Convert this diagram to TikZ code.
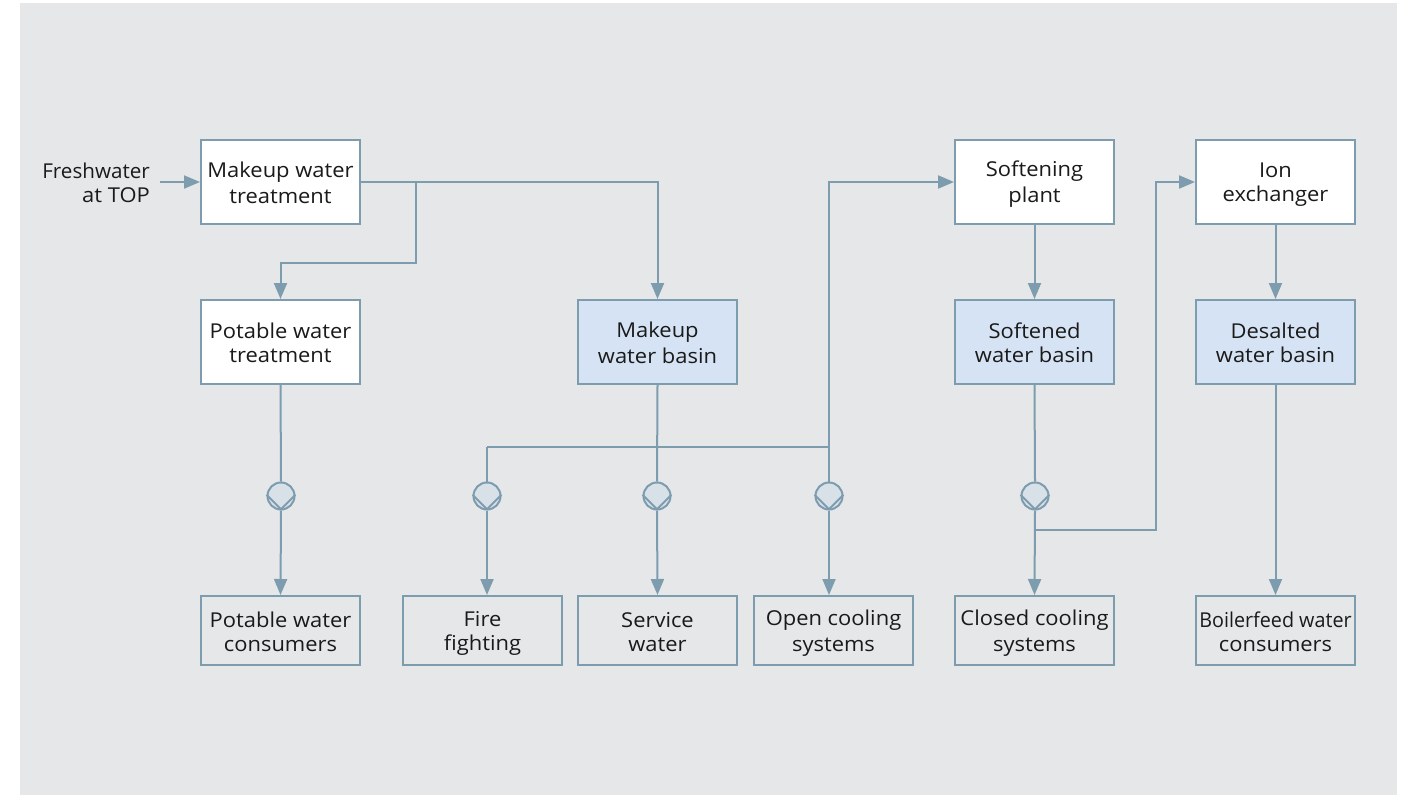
\documentclass[tikz,border=0pt]{standalone}
\usepackage{fontspec}
\setmainfont{Open Sans}[FakeStretch=1.07]
\usetikzlibrary{arrows.meta,calc}
\definecolor{bg}{HTML}{E5E7E9}
\definecolor{ln}{HTML}{7D9DAF}
\definecolor{blu}{HTML}{D6E3F4}
\definecolor{pmp}{HTML}{D8E1E8}
\definecolor{txt}{HTML}{1A1A1A}
\newcommand\hstr{\rule[-2.4pt]{0pt}{22.4pt}}
\newcommand\twol[2]{\hstr #1\\\hstr #2}
\begin{document}
\begin{tikzpicture}[x=1pt,y=-1pt,
 box/.style={draw=ln,line width=2pt,minimum width=159pt,minimum height=84pt,align=center,font=\fontsize{20.5}{24}\selectfont,text=txt,inner sep=0pt},
 wbox/.style={box,fill=white},
 bbox/.style={box,fill=blu},
 cbox/.style={box,fill=bg,minimum height=69pt},
 flow/.style={draw=ln,line width=2pt},
 arr/.style={flow,-{Triangle[length=16pt,width=13pt]}},
 pump/.style={circle,draw=ln,fill=pmp,line width=2pt,minimum size=27pt,inner sep=0pt}
]
\useasboundingbox (0,0) rectangle (1407,795);
\fill[bg] (20,3) rectangle (1397,795);

\node[wbox] (mwt) at (280.5,182) {\twol{Makeup water}{treatment}};
\node[wbox] (pwt) at (280.5,342) {\twol{Potable water}{treatment}};
\node[bbox] (mwb) at (657.5,342) {\twol{Makeup}{water basin}};
\node[wbox] (sp) at (1034.5,182) {\twol{Softening}{plant}};
\node[bbox] (swb) at (1034.5,342) {\twol{Softened}{water basin}};
\node[wbox] (ix) at (1275.5,182) {\twol{Ion}{exchanger}};
\node[bbox] (dwb) at (1275.5,342) {\twol{Desalted}{water basin}};

\node[cbox] (pwc) at (280.5,630.5) {\twol{Potable water}{consumers}};
\node[cbox] (ff) at (482.5,630.5) {\twol{Fire}{fighting}};
\node[cbox] (sw) at (657.5,630.5) {\twol{Service}{water}};
\node[cbox] (oc) at (833.5,630.5) {\twol{Open cooling}{systems}};
\node[cbox] (cc) at (1034.5,630.5) {\twol{Closed cooling}{systems}};
\node[cbox] (bw) at (1275.5,630.5) {\twol{\scalebox{0.9}[1]{Boilerfeed water}}{consumers}};

\node[anchor=east,align=right,inner sep=0pt,text=txt,font=\fontsize{20.5}{24}\selectfont] (fresh) at (150,182) {\hstr\scalebox{0.94}[1]{Freshwater}\\\hstr at TOP};

\node[pump] (p1) at (281,496) {};
\node[pump] (p2) at (487,496) {};
\node[pump] (p3) at (657,496) {};
\node[pump] (p4) at (829,496) {};
\node[pump] (p5) at (1035,496) {};
\foreach \p in {p1,p2,p3,p4,p5}{
  \draw[ln,line width=2pt,line join=round] (\p.175) -- ([yshift=1.2pt]\p.south) -- (\p.5);
}

\coordinate (j1) at (416,182);
\coordinate (j1b) at (416,263);
\coordinate (h1) at (487,447);
\coordinate (h2) at (829,447);
\coordinate (j2) at (1035,530);
\coordinate (j3) at (1156,530);

\draw[arr] ([xshift=10pt]fresh.east) -- (mwt.west);
\draw[arr] (mwt.east) -| (mwb.north);
\draw[arr] (j1) -- (j1b) -| (pwt.north);
\draw[flow] (pwt.south) -- (p1.north);
\draw[arr] (p1.south) -- (pwc.north);
\draw[flow] (mwb.south) -- (p3.north);
\draw[arr] (p3.south) -- (sw.north);
\draw[flow] (h1) -- (h2);
\draw[flow] (h1) -- (p2.north);
\draw[arr] (p2.south) -- (p2.south |- ff.north);
\draw[flow] (h2) -- (p4.north);
\draw[arr] (p4.south) -- (p4.south |- oc.north);
\draw[arr] (h2) |- (sp.west);
\draw[arr] (sp.south) -- (swb.north);
\draw[flow] (swb.south) -- (p5.north);
\draw[arr] (p5.south) -- (cc.north);
\draw[arr] (j2) -- (j3) |- (ix.west);
\draw[arr] (ix.south) -- (dwb.north);
\draw[arr] (dwb.south) -- (bw.north);
\end{tikzpicture}
\end{document}
